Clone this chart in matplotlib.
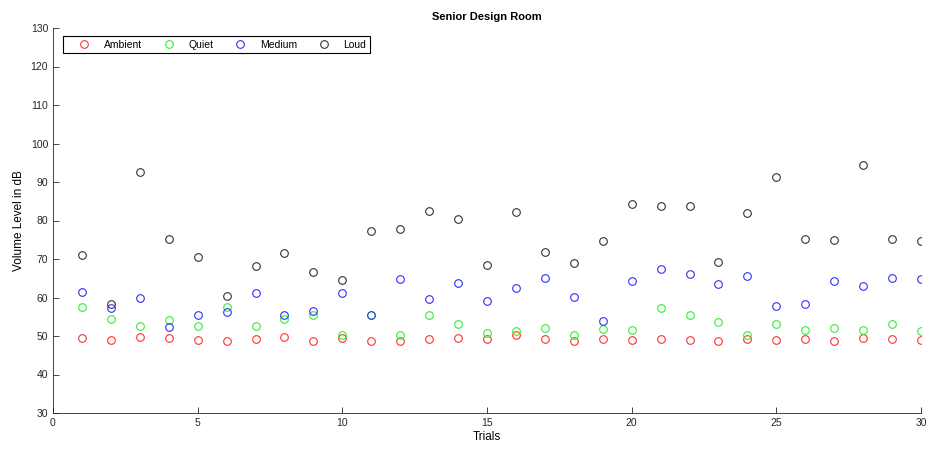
import matplotlib
matplotlib.use("Agg")
import matplotlib.pyplot as plt
import numpy as np

# sound level readings, one per trial
trials = np.arange(1, 31)
ambient = [49.5, 49.0, 49.7, 49.5, 49.0, 48.8, 49.3, 49.8, 48.7, 49.5,
           48.8, 48.8, 49.1, 49.5, 49.3, 50.2, 49.1, 48.8, 49.1, 48.9,
           49.1, 48.9, 48.8, 49.2, 48.9, 49.3, 48.8, 49.4, 49.1, 48.9]
quiet = [57.6, 54.5, 52.5, 54.1, 52.5, 57.6, 52.5, 54.5, 55.4, 50.3,
         55.5, 50.3, 55.5, 53.1, 50.9, 51.4, 52.2, 50.3, 51.9, 51.5,
         57.2, 55.5, 53.6, 50.3, 53.1, 51.5, 52.2, 51.6, 53.0, 51.2]
medium = [61.3, 57.2, 60.0, 52.4, 55.5, 56.2, 61.2, 55.5, 56.5, 61.2,
          55.5, 64.9, 59.7, 63.7, 59.2, 62.4, 65.0, 60.2, 53.8, 64.3,
          67.3, 66.0, 63.6, 65.5, 57.8, 58.2, 64.4, 63.1, 65.0, 64.8]
loud = [71.1, 58.4, 92.5, 75.1, 70.4, 60.5, 68.2, 71.6, 66.6, 64.5,
        77.3, 77.8, 82.5, 80.4, 68.4, 82.3, 71.7, 69.0, 74.6, 84.2,
        83.8, 83.7, 69.2, 82.0, 91.2, 75.2, 74.9, 94.5, 75.3, 74.6]

series = [("Ambient", ambient, "#ff3030"),
          ("Quiet", quiet, "#30f030"),
          ("Medium", medium, "#3030ff"),
          ("Loud", loud, "#333333")]

plt.rcParams["font.family"] = ["Liberation Sans", "DejaVu Sans"]
plt.rcParams["font.size"] = 7.5

fig = plt.figure(figsize=(9.33, 4.57), dpi=100)
ax = fig.add_axes([53 / 933, 1 - 413 / 457, 868 / 933, 385 / 457])

for name, vals, col in series:
    ax.plot(trials, vals, "o", mfc="none", mec=col, mew=0.8, ms=5.5,
            label=name)

ax.set_xlim(0, 30)
ax.set_ylim(30, 130)
ax.set_xticks(np.arange(0, 31, 5))
ax.set_yticks(np.arange(30, 131, 10))
ax.tick_params(direction="in", length=4, width=0.6, colors="#262626",
               labelsize=7.5)
for s in ["top", "right"]:
    ax.spines[s].set_visible(False)
for s in ["left", "bottom"]:
    ax.spines[s].set_color("#262626")
    ax.spines[s].set_linewidth(0.6)

ax.set_title("Senior Design Room", fontsize=8, fontweight="bold", pad=6)
ax.set_xlabel("Trials", fontsize=8.5, labelpad=2)
ax.set_ylabel("Volume Level in dB", fontsize=8.5, labelpad=4)

leg = ax.legend(ncol=4, loc="upper left", bbox_to_anchor=(0.0115, 0.979),
                borderaxespad=0, fancybox=False, edgecolor="black",
                framealpha=1, fontsize=7.5, handletextpad=0.2,
                columnspacing=0.85, borderpad=0.35, handlelength=3.4)
leg.get_frame().set_linewidth(0.8)

fig.savefig("out.png", dpi=100)
